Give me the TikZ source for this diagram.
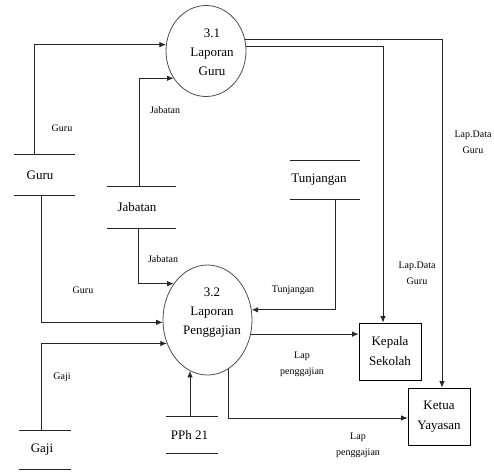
\documentclass[tikz,border=0pt]{standalone}
\usepackage{fontspec}
\setmainfont{Liberation Serif}
\usetikzlibrary{shapes.geometric,arrows.meta}
\begin{document}
\begin{tikzpicture}[x=1pt,y=-1pt,
  line width=0.8pt,
  proc/.style={ellipse,draw=black!70,line width=0.8pt,inner sep=0pt},
  store/.style={inner sep=0pt,font=\fontsize{13}{15}\selectfont},
  ent/.style={draw,rectangle,inner sep=0pt,align=center,font=\fontsize{13}{20}\selectfont},
  ptext/.style={align=center,inner sep=0pt,font=\fontsize{13}{19}\selectfont},
  lbl/.style={align=center,inner sep=0pt,font=\fontsize{10}{16}\selectfont},
  flow/.style={draw=black!85,-{Latex[length=6.5pt,width=5.5pt]}},
  plain/.style={draw=black!85}
  ]
\useasboundingbox (0,0) rectangle (494,472);

% processes
\node[proc,minimum width=80pt,minimum height=91pt] (p31) at (206,51) {};
\node[ptext] (t31) at (212,52) {3.1\\Laporan\\Guru};
\node[proc,minimum width=89pt,minimum height=110pt] (p32) at (207.5,320) {};
\node[ptext] (t32) at (212,313) {3.2\\Laporan\\Penggajian};

% data stores
\node[store,minimum width=61pt,minimum height=40pt] (guru) at (44.5,175) {\hspace*{-9pt}Guru};
\node[store,minimum width=69pt,minimum height=41pt] (jab) at (141.5,207.5) {\hspace*{-9pt}Jabatan};
\node[store,minimum width=70pt,minimum height=38pt] (tunj) at (325,180) {\hspace*{-12pt}Tunjangan};
\node[store,minimum width=52pt,minimum height=38pt] (gaji) at (45,450) {\hspace*{-6pt}Gaji};
\node[store,minimum width=52pt,minimum height=36pt] (pph) at (192,435) {\hspace*{-5pt}PPh 21};
\foreach \s in {guru,jab,tunj,gaji,pph}
  \draw[plain] (\s.north west) -- (\s.north east) (\s.south west) -- (\s.south east);

% external entities
\node[ent,minimum width=62pt,minimum height=57pt] (kepala) at (390,351.5) {Kepala\\Sekolah};
\node[ent,minimum width=62pt,minimum height=57pt] (ketua) at (439,416.5) {Ketua\\Yayasan};

% flows into 3.1
\draw[flow] ([xshift=-10.5pt]guru.north) |- (p31.171);
\draw[flow] ([xshift=-2.5pt]jab.north) |- (p31.220);
% flows out of 3.1
\draw[flow] (p31.6) -| ([xshift=-7pt]kepala.north);
\draw[flow] (p31.17) -| ([xshift=3pt]ketua.north);
% flows into 3.2
\draw[flow] ([xshift=-3.5pt]jab.south) |- (p32.133);
\draw[flow] ([xshift=-3.5pt]guru.south) |- (p32.183);
\draw[flow] ([xshift=-4pt]gaji.north) |- (p32.210);
\draw[flow] ([xshift=-2pt]pph.north) -- ([xshift=-2pt]pph.north |- p32.251);
\draw[flow] ([xshift=10pt]tunj.south) |- (p32.13);
% flows out of 3.2
\draw[flow] (p32.342) -- (p32.342 -| kepala.west);
\draw[flow] (p32.293) |- ([yshift=-1.5pt]ketua.west);

% labels
\node[lbl] (lg1) at (62,128) {Guru};
\node[lbl] (lj1) at (165,110) {Jabatan};
\node[lbl] (ld1) at (473,142) {Lap.Data\\Guru};
\node[lbl] (lj2) at (163,259) {Jabatan};
\node[lbl] (lg2) at (83,290) {Guru};
\node[lbl] (lt) at (293,290) {Tunjangan};
\node[lbl] (ld2) at (417,273) {Lap.Data\\Guru};
\node[lbl] (lp1) at (302,364) {Lap\\penggajian};
\node[lbl] (lgj) at (62,377) {Gaji};
\node[lbl] (lp2) at (358,445) {Lap\\penggajian};
\end{tikzpicture}
\end{document}
